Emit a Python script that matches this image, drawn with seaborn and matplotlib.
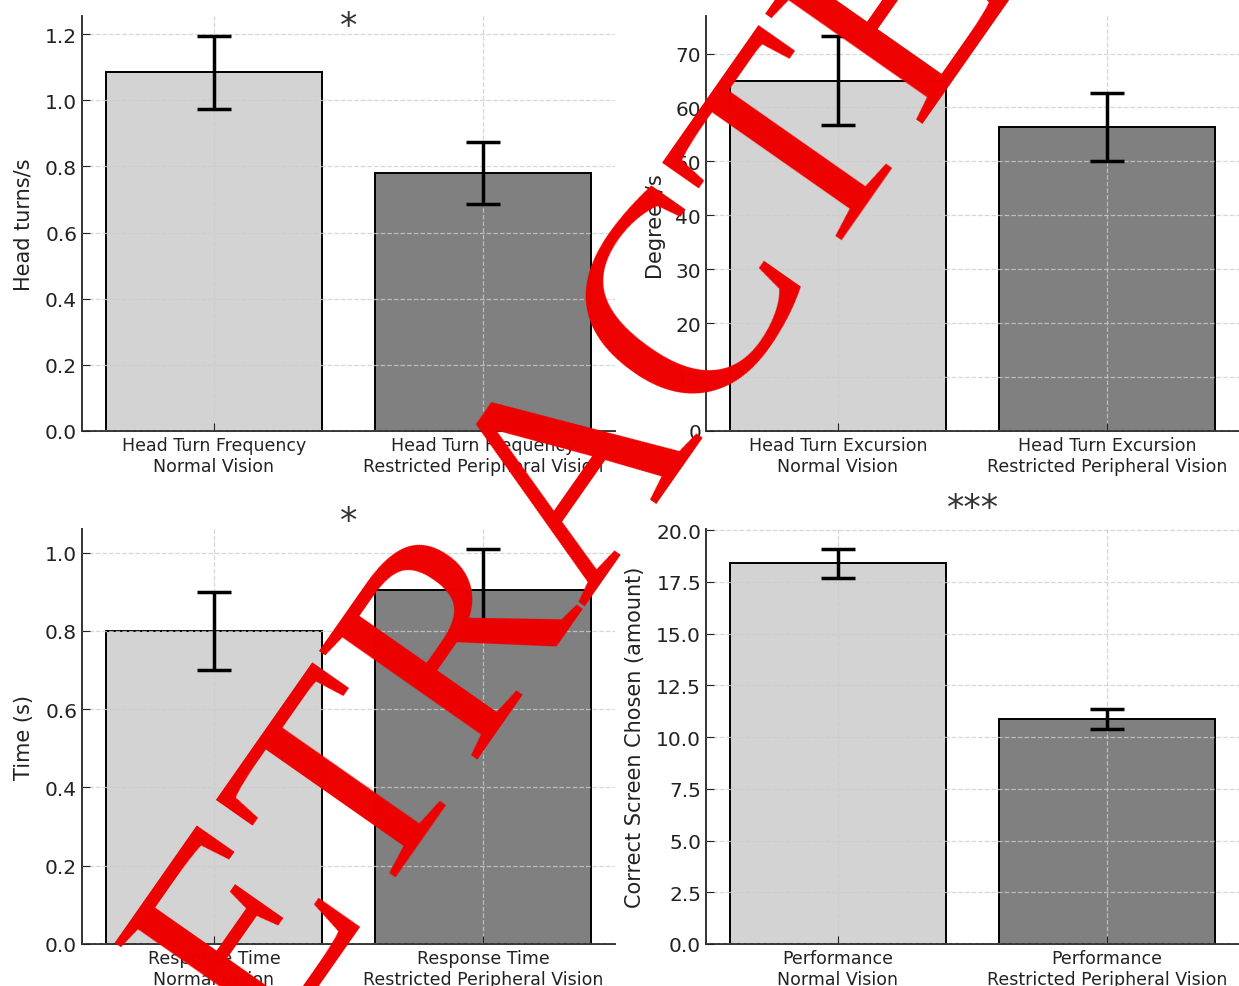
import matplotlib.pyplot as plt
import seaborn as sns

# conditions shared by all four panels
conditions = ["Normal Vision", "Restricted Peripheral Vision"]
bar_colors = ["lightgray", "gray"]

# one entry per panel: measure name, y label, means, standard errors, significance
measures = ["Head Turn Frequency", "Head Turn Excursion", "Response Time", "Performance"]
y_labels = ["Head turns/s", "Degrees/s", "Time (s)", "Correct Screen Chosen (amount)"]
freq_mean, freq_err = [1.085, 0.78], [0.11, 0.095]
excursion_mean, excursion_err = [65.0, 56.4], [8.3, 6.3]
response_mean, response_err = [0.80, 0.905], [0.10, 0.105]
performance_mean, performance_err = [18.4, 10.87], [0.70, 0.50]
significance = ["*", "", "*", "***"]

all_means = [freq_mean, excursion_mean, response_mean, performance_mean]
all_errors = [freq_err, excursion_err, response_err, performance_err]

# layout (figure fractions) for the 2x2 grid
W, H = 1239, 987
axes_boxes = [
    [82 / W, (H - 432) / H, 533 / W, 415 / H],
    [706 / W, (H - 432) / H, 533 / W, 415 / H],
    [82 / W, (H - 945) / H, 533 / W, 415 / H],
    [706 / W, (H - 945) / H, 533 / W, 415 / H],
]
star_height = [0.975, 1.0, 1.02, 1.05]

text_color = "#222222"
plt.rcParams["font.family"] = "DejaVu Sans"

fig = plt.figure(figsize=(W / 100, H / 100), dpi=100)

for i, box in enumerate(axes_boxes):
    ax = fig.add_axes(box)
    labels = [f"{measures[i]}\n{c}" for c in conditions]

    sns.barplot(
        x=labels,
        y=all_means[i],
        hue=labels,
        palette=bar_colors,
        legend=False,
        errorbar=None,
        edgecolor="black",
        linewidth=1.4,
        width=0.8,
        ax=ax,
    )
    ax.errorbar(
        range(len(labels)),
        all_means[i],
        yerr=all_errors[i],
        fmt="none",
        ecolor="black",
        elinewidth=2.5,
        capsize=12.5,
        capthick=2.5,
        zorder=4,
    )

    ax.set_xlim(-0.49, 1.49)
    ax.set_ylabel(y_labels[i], fontsize=15, color=text_color, labelpad=8)
    ax.set_xlabel("")
    ax.tick_params(axis="x", direction="in", length=6, labelsize=12.5, colors=text_color)
    ax.tick_params(axis="y", direction="in", length=6, labelsize=14.5, colors=text_color)

    ax.grid(True, which="major", axis="both", linestyle="--", color="#cccccc",
            linewidth=0.9, alpha=0.8)
    ax.set_axisbelow(False)

    for side in ["top", "right"]:
        ax.spines[side].set_visible(False)
    for side in ["left", "bottom"]:
        ax.spines[side].set_color("#333333")
        ax.spines[side].set_linewidth(1.4)

    if significance[i]:
        ax.text(0.5, star_height[i], significance[i], transform=ax.get_xaxis_transform(),
                ha="center", va="center", fontsize=25, color="#333333", clip_on=False)

# retraction stamp over the whole figure (anchored at the middle of its baseline)
fig.text(646 / W, 1 - 508 / H, "RETRACTED", fontsize=210, color="#ee0000",
         rotation=55, rotation_mode="anchor", ha="center", va="baseline",
         family="Liberation Serif", zorder=10)

fig.savefig("out.png", dpi=100)
